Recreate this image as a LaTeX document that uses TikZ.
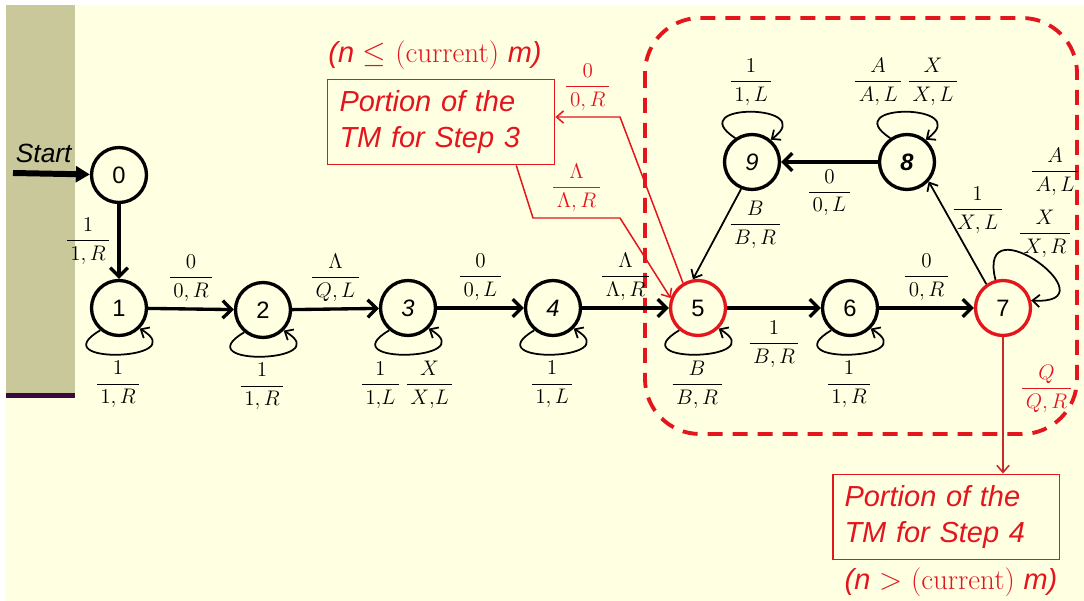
\documentclass[tikz,border=0pt]{standalone}
\usepackage{fontspec}
\usepackage{amsmath}
\newfontfamily\arial{Liberation Sans}
\usetikzlibrary{arrows.meta,positioning,calc}

\definecolor{slidebg}{HTML}{FFFFE2}
\definecolor{barolive}{HTML}{C9C89A}
\definecolor{barline}{HTML}{3B0A3C}
\definecolor{tmred}{HTML}{E3161E}
\definecolor{tmdark}{HTML}{C62A2A}

% transition label: read / write, move
\newcommand{\tmlab}[2]{$\dfrac{\,#1\,}{\,#2\,}$}

\tikzset{
  state/.style={circle, draw, line width=1.9pt, minimum size=1.1cm, inner sep=0pt,
    fill=slidebg, font=\arial\fontsize{13.5}{16}\selectfont},
  hot/.style={state, draw=tmred},
  thickarrow/.style={-{Straight Barb[length=5pt,width=10pt]}, line width=1.9pt},
  thinarrow/.style={-{Straight Barb[length=4pt,width=7pt]}, line width=1pt},
  redarrow/.style={-{Straight Barb[length=4pt,width=7pt]}, line width=0.85pt, tmred},
  portion/.style={draw=tmred, line width=1.1pt, text=tmred, align=left,
    font=\arial\itshape\fontsize{16.5}{20.4}\selectfont,
    text width=4.06cm, inner xsep=0.24cm, minimum height=1.7cm},
  cond/.style={text=tmred, font=\fontsize{16.5}{20}\selectfont},
  every node/.append style={font=\fontsize{12.5}{15}\selectfont},
}

\begin{document}
\begin{tikzpicture}[x=0.02cm, y=-0.02cm]
   \useasboundingbox (0,0) rectangle (1084,601);
   \fill[white] (0,0) rectangle (1084,601);
   \fill[slidebg] (6,5) rectangle (1084,601);
   \fill[barolive] (6,5) rectangle (75,393);
   \fill[barline] (6,393) rectangle (75,398);

   % dashed region round states 5 to 9
   \draw[tmred, line width=2.2pt, dash pattern=on 0.3cm off 0.2cm, rounded corners=1.1cm]
      (645,18) rectangle (1077,434);

   \node[state] (q0) at (119,175) {0};
   \node[state] (q1) at (119,308) {1};
   \node[state] (q2) at (263,310) {2};
   \node[state] (q3) at (408,308) {\itshape 3};
   \node[state] (q4) at (553,308) {\itshape 4};
   \node[hot]   (q5) at (698,308) {5};
   \node[state] (q6) at (850,308) {6};
   \node[hot]   (q7) at (1003,308) {7};
   \node[state] (q8) at (907,162) {\bfseries\itshape 8};
   \node[state] (q9) at (752,162) {\itshape 9};

   \node[portion] (step3) at (441,122) {Portion of the\\TM for Step 3};
   \node[portion] (step4) at (946,517) {Portion of the\\TM for Step 4};
   \node[cond] (cond3) at (435,55) {{\arial\itshape (n} $\leq$ (current) {\arial\itshape m)}};
   \node[cond] (cond4) at (951,582) {{\arial\itshape (n} $>$ (current) {\arial\itshape m)}};

   \coordinate (entry) at (13,173);
   \draw[line width=3.4pt, -{Triangle[length=8pt,width=9pt]}] (entry) -- (q0)
      node[pos=0.4, above=1pt, font=\arial\itshape\fontsize{15}{18}\selectfont] {Start};

   \draw[thickarrow] (q0) -- (q1) node[midway, left] {\tmlab{1}{1,R}};
   \draw[thickarrow] (q1) -- (q2) node[midway, above] {\tmlab{0}{0,R}};
   \draw[thickarrow] (q2) -- (q3) node[midway, above] {\tmlab{\Lambda}{Q,L}};
   \draw[thickarrow] (q3) -- (q4) node[midway, above] {\tmlab{0}{0,L}};
   \draw[thickarrow] (q4) -- (q5) node[midway, above] {\tmlab{\Lambda}{\Lambda,R}};
   \draw[thickarrow] (q5) -- (q6) node[midway, below=3pt] {\tmlab{1}{B,R}};
   \draw[thickarrow] (q6) -- (q7) node[midway, above] {\tmlab{0}{0,R}};
   \draw[thickarrow] (q8) -- (q9) node[midway, below] {\tmlab{0}{0,L}};
   \draw[thinarrow] (q9.-112) -- (q5.100) node[pos=0.4, right] {\tmlab{B}{B,R}};
   \draw[thinarrow] (q7.125) -- (q8.-42) node[pos=0.72, right] {\tmlab{1}{X,L}};

   % self loops
   \foreach \s/\t in {q1/{\tmlab{1}{1,R}}, q2/{\tmlab{1}{1,R}},
                      q3/{\tmlab{1}{1{,}L}\,\tmlab{X}{X{,}L}}, q4/{\tmlab{1}{1,L}},
                      q5/{\tmlab{B}{B,R}}, q6/{\tmlab{1}{1,R}}}
      \draw[thinarrow] (\s.-130) .. controls +(-60,35) and +(55,32) .. (\s.-45)
         node[midway, below] {\t};
   \draw[thinarrow] (q9.125) .. controls +(-55,-36) and +(50,-36) .. (q9.50)
      node[midway, above] {\tmlab{1}{1,L}};
   \draw[thinarrow] (q8.125) .. controls +(-55,-36) and +(50,-36) .. (q8.50)
      node[midway, above] {\tmlab{A}{A,L}\,\tmlab{X}{X,L}};
   \draw[thinarrow] (q7.105) .. controls +(-20,-80) and +(85,5) .. (q7.15);
   \node (lab7a) at (1055,172) {\tmlab{A}{A,L}};
   \node (lab7b) at (1045,234) {\tmlab{X}{X,R}};

   % ways out to the other portions
   \coordinate (bend3a) at (620,117);
   \coordinate (bend3b) at (533,218);
   \coordinate (bend3c) at (620,218);
   \draw[redarrow] (q5.121) -- (bend3a) -- (bend3a -| step3.east)
      node[midway, above] {\tmlab{0}{0,R}};
   \draw[redarrow] (step3.-30) -- (bend3b) -- (bend3c)
      node[midway, above] {\tmlab{\Lambda}{\Lambda,R}} -- (q5.160);
   \draw[redarrow, line width=0.9pt, tmdark] (q7) -- (step4.north -| q7)
      node[pos=0.38, right=6pt, text=tmred] {\tmlab{Q}{Q,R}};
\end{tikzpicture}
\end{document}
